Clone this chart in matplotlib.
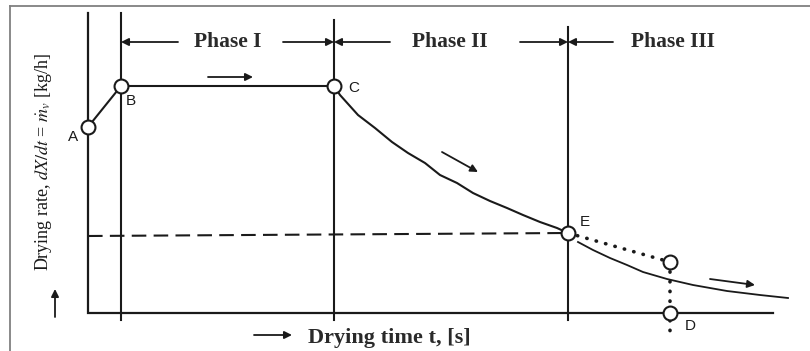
import matplotlib
matplotlib.use("Agg")
import matplotlib.pyplot as plt
from matplotlib.lines import Line2D

plt.rcParams["mathtext.fontset"] = "stix"

# Drying curve: time t (arbitrary units) and drying rate (arbitrary units)
point_names = ["A", "B", "C", "E", "D"]
point_t = [0.0, 3.3, 24.6, 48.0, 58.2]
point_rate = [18.6, 22.7, 22.7, 8.0, 0.0]

# falling-rate section C -> E
falling_t = [24.6, 25.2, 27.0, 28.7, 30.4, 32.0, 33.7, 35.2, 36.9, 38.5,
             40.2, 41.9, 43.5, 45.2, 46.9, 48.0]
falling_rate = [22.7, 21.8, 19.8, 18.5, 17.1, 16.0, 15.0, 13.8, 13.0, 12.0,
                11.2, 10.5, 9.8, 9.1, 8.5, 8.0]

# continuation after E
tail_t = [49.0, 50.5, 52.2, 53.9, 55.5, 57.9, 60.5, 63.9, 67.2, 70.0]
tail_rate = [7.1, 6.3, 5.5, 4.8, 4.1, 3.4, 2.8, 2.2, 1.8, 1.5]

# alternative path E -> intermediate point -> D
alt_t = [48.0, 58.2]
alt_rate = [8.0, 5.1]

phase_labels = ["Phase I", "Phase II", "Phase III"]
phase_bounds = [3.3, 24.6, 48.0]

ink = "#1a1a1a"

fig = plt.figure(figsize=(8.10, 3.51), dpi=100)
ax = fig.add_axes([0, 0, 1, 1])
ax.set_xlim(-8.8, 72.2)
ax.set_ylim(-3.8, 31.3)
ax.axis("off")

# outer frame (top and left edges)
fig.add_artist(Line2D([10 / 810, 1.0], [1 - 6 / 351, 1 - 6 / 351],
                      transform=fig.transFigure, color="#808080", lw=1.3))
fig.add_artist(Line2D([10 / 810, 10 / 810], [0, 1 - 6 / 351],
                      transform=fig.transFigure, color="#808080", lw=1.3))

# axes (L-shaped)
ax.plot([0, 0, 68.5], [30.0, 0, 0], color=ink, lw=1.6, solid_joinstyle="miter")

# phase boundary lines
tops = [30.0, 29.3, 28.6]
for tb, top in zip(phase_bounds, tops):
    ax.plot([tb, tb], [top, -0.7], color=ink, lw=1.5)

# critical-rate dashed line
ax.plot([0, point_t[3]], [7.7, point_rate[3]], color=ink, lw=1.5,
        linestyle=(0, (7, 3.5)))

# drying curve A-B-C, falling section, tail
ax.plot(point_t[:3], point_rate[:3], color=ink, lw=1.5)
ax.plot(falling_t, falling_rate, color=ink, lw=1.5, solid_joinstyle="round")
ax.plot(tail_t, tail_rate, color=ink, lw=1.3, solid_joinstyle="round")

# dotted alternative path
dot_style = dict(color=ink, lw=2.6, linestyle=(0, (0.1, 2.6)),
                 dash_capstyle="round")
ax.plot(alt_t, alt_rate, **dot_style)
ax.plot([alt_t[1], alt_t[1]], [alt_rate[1], -1.8], **dot_style)

# open circles
circ_t = point_t + [alt_t[1]]
circ_r = point_rate + [alt_rate[1]]
ax.plot(circ_t, circ_r, "o", ms=10, mfc="white", mec=ink, mew=1.5, zorder=5)

# point labels
label_pos = {"A": (-1.5, 17.6), "B": (4.3, 21.2), "C": (26.6, 22.5),
             "E": (49.7, 9.1), "D": (60.2, -1.3)}
for name in point_names:
    x, y = label_pos[name]
    ax.text(x, y, name, ha="center", va="center", fontsize=11,
            family="Liberation Sans", color=ink)

# phase headers with boundary arrows
hy = 27.1
phase_centers = [14.0, 36.2, 58.5]
for lbl, cx in zip(phase_labels, phase_centers):
    ax.text(cx, hy, lbl, ha="center", va="center", fontsize=15.5,
            fontweight="bold", family="Liberation Serif", color="#2a2a2a")

arrow_kw = dict(arrowstyle="-|>", color=ink, lw=1.3, mutation_scale=11,
                shrinkA=0, shrinkB=0)
phase_arrows = [(9.0, 3.3), (19.5, 24.6), (30.2, 24.6), (43.2, 48.0),
                (52.5, 48.0)]
for x0, x1 in phase_arrows:
    ax.annotate("", xy=(x1, hy), xytext=(x0, hy), arrowprops=arrow_kw)

# direction arrows along the curve
dir_arrows = [((12.0, 23.6), (16.5, 23.6)),
              ((35.4, 16.1), (39.0, 14.1)),
              ((62.2, 3.4), (66.7, 2.8))]
for (x0, y0), (x1, y1) in dir_arrows:
    ax.annotate("", xy=(x1, y1), xytext=(x0, y0), arrowprops=arrow_kw)

# axis titles with arrows
ax.annotate("", xy=(-3.3, 2.4), xytext=(-3.3, -0.4), arrowprops=arrow_kw)
ax.text(-4.4, 15.1, r"Drying rate, $dX/dt$ = $\dot{m}_v$ [kg/h]",
        rotation=90, ha="center", va="center", fontsize=13,
        family="Liberation Serif", color=ink)

ax.annotate("", xy=(20.4, -2.2), xytext=(16.6, -2.2), arrowprops=arrow_kw)
ax.text(22.0, -2.5, "Drying time t, [s]", ha="left", va="center",
        fontsize=16, fontweight="bold", family="Liberation Serif",
        color="#2a2a2a")

fig.savefig("out.png", dpi=100, facecolor="white")
